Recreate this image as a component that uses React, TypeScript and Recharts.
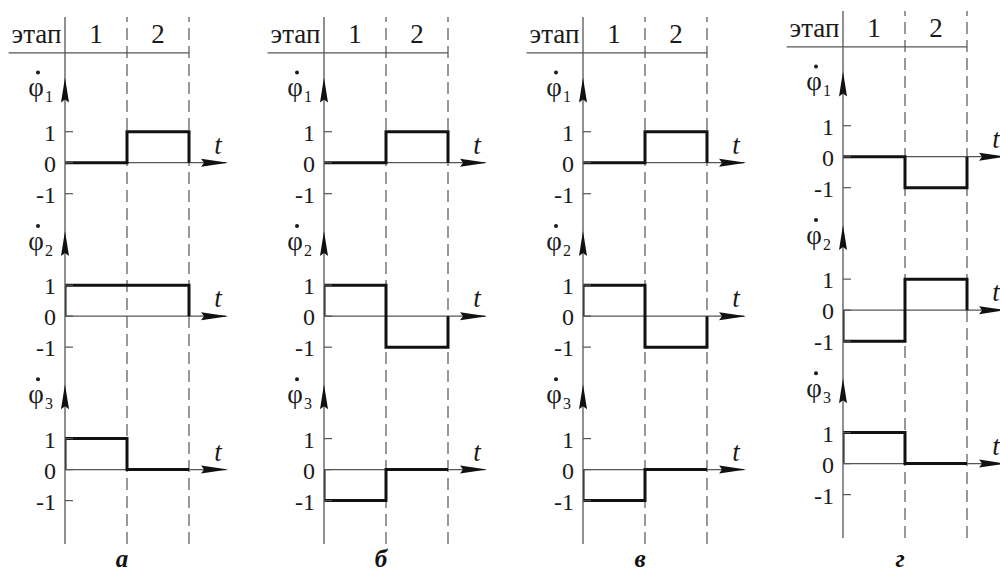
import React from "react";
import { LineChart, Line, XAxis, YAxis, ReferenceLine, ReferenceDot } from "recharts";

const stageLabels = ["1", "2"];
const headerLabel = "этап";
const yTicks = [-1, 0, 1];
const panelLetters = ["а", "б", "в", "г"];

// values of φ̇1, φ̇2, φ̇3 on stage 1 and stage 2, one pair per panel (а, б, в, г)
const phi1Values = [[0, 1], [0, 1], [0, 1], [0, -1]];
const phi2Values = [[1, 1], [1, -1], [1, -1], [-1, 1]];
const phi3Values = [[1, 0], [-1, 0], [-1, 0], [1, 0]];

// where each panel's vertical axis sits on the page, and a small vertical shift
const panelAxisX = [65, 324, 583, 843];
const panelShift = [0, 0, 0, -6];

const FONT = "'Liberation Serif', 'Times New Roman', Times, serif";
const serif = { fontFamily: FONT };
const THIN = "#555";
const INK = "#111";
const TEXT = "#1a1a1a";
const PX_PER_STAGE = 62;
const X_MAX = 2.7;
const PLOT_LEFT = 65;
const AXIS_W = 0.01; // y axes stacked on top of each other
const CHART_W = Math.round(PLOT_LEFT + X_MAX * PX_PER_STAGE + 18);

// each sub plot gets its own y axis, all sharing the same plot area
const axes = [
  { id: "p1", domain: [-12.3, 4.7] },
  { id: "p2", domain: [-7.35, 9.65] },
  { id: "p3", domain: [-2.4, 14.6] },
];

const toSteps = (vals: number[]) => [
  { t: 0, v: 0 },
  { t: 0, v: vals[0] },
  { t: 1, v: vals[1] },
  { t: 2, v: 0 },
];

const renderTick = (props: any) => {
  const { x, y, payload } = props;
  return (
    <g>
      <line x1={x} x2={x + 8} y1={y} y2={y} stroke={THIN} strokeWidth={1.2} />
      <text x={x - 9} y={y + 9} textAnchor="end" fontSize={24} style={serif} fill={TEXT}>
        {payload.value}
      </text>
    </g>
  );
};

const upArrow = (index: number) => (props: any) => {
  const { cx, cy } = props;
  return (
    <g>
      <path d={`M${cx},${cy} L${cx - 4},${cy + 25} L${cx},${cy + 22} L${cx + 4},${cy + 25} Z`} fill={INK} />
      <circle cx={cx - 27} cy={cy - 5} r={2} fill={TEXT} />
      <text x={cx - 29} y={cy + 19} textAnchor="middle" fontSize={27} style={serif} fill={TEXT}>
        φ
      </text>
      <text x={cx - 20} y={cy + 25} fontSize={16} style={serif} fill={TEXT}>
        {index}
      </text>
    </g>
  );
};

const rightArrow = (props: any) => {
  const { cx, cy } = props;
  return (
    <g>
      <path d={`M${cx},${cy} L${cx - 27},${cy - 4} L${cx - 24},${cy} L${cx - 27},${cy + 4} Z`} fill={INK} />
      <text x={cx - 10} y={cy - 9} textAnchor="middle" fontSize={27} fontStyle="italic" style={serif} fill={TEXT}>
        t
      </text>
    </g>
  );
};

const headerText = (label: string) => (props: any) => (
  <text x={props.cx} y={props.cy} textAnchor="middle" fontSize={27} style={serif} fill={TEXT}>
    {label}
  </text>
);

function Panel({ index }: { index: number }) {
  const series = [phi1Values[index], phi2Values[index], phi3Values[index]];
  return (
    <div style={{ position: "absolute", left: panelAxisX[index] - PLOT_LEFT, top: panelShift[index] }}>
      <LineChart
        width={CHART_W}
        height={571}
        style={serif}
        margin={{
          top: 17,
          right: CHART_W - PLOT_LEFT - X_MAX * PX_PER_STAGE,
          bottom: 27,
          left: PLOT_LEFT - AXIS_W * axes.length,
        }}
      >
        <XAxis dataKey="t" type="number" domain={[0, X_MAX]} allowDataOverflow hide />
        {axes.map((a, i) => (
          <YAxis
            key={a.id}
            yAxisId={a.id}
            type="number"
            domain={a.domain}
            allowDataOverflow
            ticks={yTicks}
            interval={0}
            width={AXIS_W}
            tickSize={0}
            tickMargin={0}
            tickLine={false}
            axisLine={i === 0 ? { stroke: THIN, strokeWidth: 1.3 } : false}
            tick={renderTick}
          />
        ))}

        {/* stage header */}
        <ReferenceLine
          yAxisId="p1"
          ifOverflow="visible"
          segment={[{ x: -0.91, y: 3.54 }, { x: 2, y: 3.54 }]}
          stroke={THIN}
          strokeWidth={1.2}
        />
        <ReferenceDot yAxisId="p1" x={-0.46} y={3.86} r={0} ifOverflow="visible" shape={headerText(headerLabel)} />
        {stageLabels.map((s, i) => (
          <ReferenceDot key={s} yAxisId="p1" x={i + 0.5} y={3.86} r={0} ifOverflow="visible" shape={headerText(s)} />
        ))}

        {/* stage borders */}
        {[1, 2].map((x) => (
          <ReferenceLine key={x} yAxisId="p1" x={x} stroke={THIN} strokeWidth={1.2} strokeDasharray="12 6" />
        ))}

        {axes.map((a) => (
          <ReferenceLine
            key={"z" + a.id}
            yAxisId={a.id}
            segment={[{ x: 0, y: 0 }, { x: 2.6, y: 0 }]}
            stroke={THIN}
            strokeWidth={1.3}
          />
        ))}
        {axes.map((a, i) => (
          <ReferenceDot key={"u" + a.id} yAxisId={a.id} x={0} y={2.75} r={0} shape={upArrow(i + 1)} />
        ))}
        {axes.map((a) => (
          <ReferenceDot key={"r" + a.id} yAxisId={a.id} x={2.63} y={0} r={0} shape={rightArrow} />
        ))}

        {axes.map((a, i) => (
          <Line
            key={"l" + a.id}
            yAxisId={a.id}
            data={toSteps(series[i])}
            dataKey="v"
            type="stepAfter"
            stroke={INK}
            strokeWidth={3}
            dot={false}
            isAnimationActive={false}
          />
        ))}
      </LineChart>
    </div>
  );
}

export default function App() {
  return (
    <div
      style={{
        position: "absolute",
        left: 0,
        top: 0,
        width: 1000,
        height: 571,
        overflow: "hidden",
        background: "#fff",
        fontFamily: FONT,
      }}
    >
      {panelLetters.map((_, i) => (
        <Panel key={i} index={i} />
      ))}
      {panelLetters.map((l, i) => (
        <div
          key={"L" + l}
          style={{
            position: "absolute",
            left: panelAxisX[i] + 43,
            top: 547,
            width: 28,
            lineHeight: "24px",
            textAlign: "center",
            fontSize: 25,
            fontWeight: "bold",
            fontStyle: "italic",
            color: INK,
          }}
        >
          {l}
        </div>
      ))}
    </div>
  );
}
